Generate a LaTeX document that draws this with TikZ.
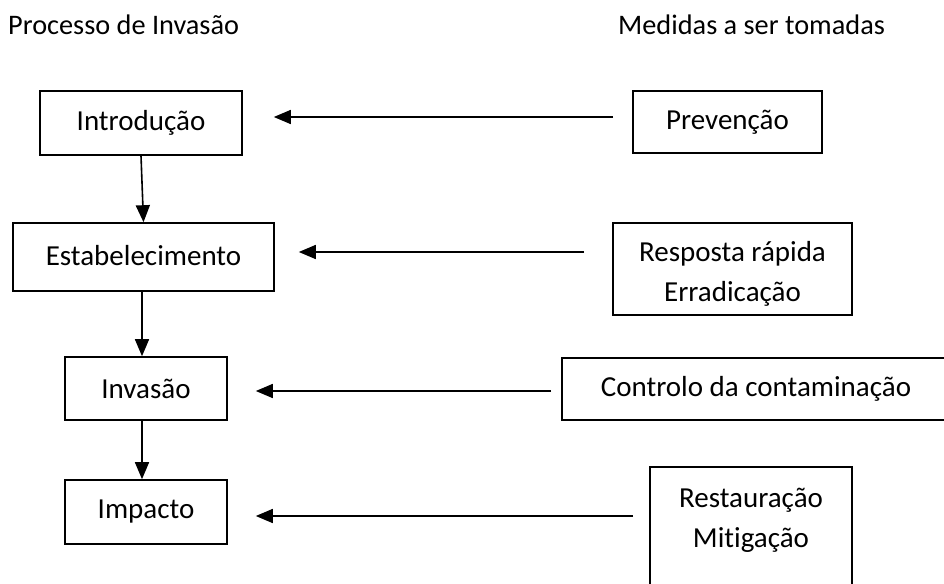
\documentclass[tikz,border=0pt]{standalone}
\usepackage{fontspec}
\setmainfont{Carlito}[Ligatures=NoCommon]
\usetikzlibrary{arrows.meta,calc}
\begin{document}
\begin{tikzpicture}[x=1pt,y=-1pt,
  box/.style={draw,line width=1.6pt,inner sep=0pt,align=center,
    font=\fontsize{29}{40}\selectfont},
  txt/.style={inner sep=0pt,align=center,font=\fontsize{29}{40}\selectfont},
  head/.style={inner sep=0pt,anchor=base west,font=\fontsize{28.3}{32}\selectfont},
  conn/.style={line width=1.6pt,-{Triangle[length=17pt,width=14pt]}}]
\useasboundingbox (0,0) rectangle (944,583);
\clip (0,0) rectangle (944,583);
% headings
\node[head] (h1) at (8,35) {Processo de Invasão};
\node[head] (h2) at (618,35) {Medidas a ser tomadas};
% left column
\node[box,minimum width=202,minimum height=64] (intro) at (141,123) {\raisebox{-1pt}{Introdução}};
\node[box,minimum width=261,minimum height=68] (estab) at (143.5,257) {\raisebox{4pt}{Estabelecimento}};
\node[box,minimum width=162,minimum height=63] (inv) at (146,388.5) {Invasão};
\node[box,minimum width=162,minimum height=64] (imp) at (146,512) {Impacto};
% right column
\node[box,minimum width=189,minimum height=62] (prev) at (727.5,122) {Prevenção};
\node[box,minimum width=239,minimum height=92] (resp) at (732.5,269) {};
\node[txt] (resptxt) at (732.5,274) {Resposta rápida\\Erradicação};
\node[box,minimum width=388,minimum height=62] (ctrl) at (756,389) {Controlo da contaminação};
\node[txt] (rest) at (751,520) {Restauração\\Mitigação};
\coordinate (rnw) at (650,467);
\coordinate (rne) at (852,467);
\draw[line width=1.6pt] (rnw |- 0,600) -- (rnw) -- (rne) -- (rne |- 0,600);
% vertical connectors
\draw[conn] (intro.south) -- (estab.north);
\draw[conn] ([xshift=-1.5pt]estab.south) -- ([xshift=-4pt]inv.north);
\draw[conn] ([xshift=-4pt]inv.south) -- ([xshift=-4pt]imp.north);
% horizontal connectors
\draw[conn] ($(prev.west)+(-19,-5)$) -- ($(intro.east)+(31,-6)$);
\draw[conn] ($(resp.west)+(-28,-17)$) -- ($(estab.east)+(24,-5)$);
\draw[conn] ($(ctrl.west)+(-10,2)$) -- ($(inv.east)+(28,2.5)$);
\draw[conn] ($(rnw)+(-17,49)$) -- ($(imp.east)+(28,4)$);
\end{tikzpicture}
\end{document}
